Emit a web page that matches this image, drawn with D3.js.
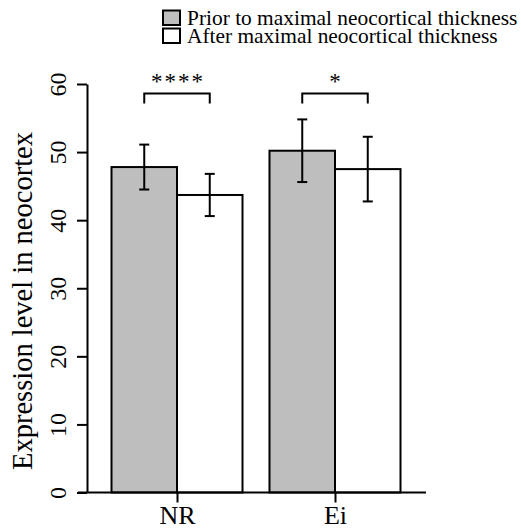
<!DOCTYPE html>
<html>
<head>
<meta charset="utf-8">
<script src="https://cdn.jsdelivr.net/npm/d3@7"></script>
<style>
  html, body { margin: 0; padding: 0; background: #fff; }
  svg { display: block; font-family: "Liberation Serif", "Times New Roman", serif; }
</style>
</head>
<body>
<svg id="chart" width="521" height="529"></svg>
<script>
// Gene groups on the x axis
const categories = ["NR", "Ei"];
// Developmental periods (one bar each per group)
const series = ["Prior to maximal neocortical thickness", "After maximal neocortical thickness"];
const seriesFill = ["#bebebe", "#ffffff"];
// Mean expression per group, per period
const priorMean = [47.8, 50.2];
const afterMean = [43.7, 47.5];
// Standard deviation (error bar half-length)
const priorSd = [3.3, 4.6];
const afterSd = [3.1, 4.75];
// Significance markers between the two periods
const significance = ["****", "*"];
// Y axis ticks
const yTicks = [0, 10, 20, 30, 40, 50, 60];
const yLabel = "Expression level in neocortex";

const svg = d3.select("#chart");

const y = d3.scaleLinear().domain([0, 60]).range([492.5, 84]);
const x = d3.scalePoint().domain(categories).range([98, 414]).padding(0.5);
const inner = d3.scaleBand().domain(series).range([-65.5, 65.5]);

const rows = [];
categories.forEach((c, i) => {
  rows.push({ cat: c, s: series[0], mean: priorMean[i], sd: priorSd[i], fill: seriesFill[0] });
  rows.push({ cat: c, s: series[1], mean: afterMean[i], sd: afterSd[i], fill: seriesFill[1] });
});

// Bars
svg.append("g").selectAll("rect").data(rows).join("rect")
  .attr("x", d => x(d.cat) + inner(d.s))
  .attr("y", d => y(d.mean))
  .attr("width", inner.bandwidth())
  .attr("height", d => y(0) - y(d.mean))
  .attr("fill", d => d.fill)
  .attr("stroke", "#000")
  .attr("stroke-width", 2);

// Error bars
const cap = 5;
const eb = svg.append("g").attr("stroke", "#000").attr("stroke-width", 2);
rows.forEach(d => {
  const cx = x(d.cat) + inner(d.s) + inner.bandwidth() / 2;
  eb.append("line").attr("x1", cx).attr("x2", cx)
    .attr("y1", y(d.mean + d.sd)).attr("y2", y(d.mean - d.sd));
  eb.append("line").attr("x1", cx - cap).attr("x2", cx + cap)
    .attr("y1", y(d.mean + d.sd)).attr("y2", y(d.mean + d.sd));
  eb.append("line").attr("x1", cx - cap).attr("x2", cx + cap)
    .attr("y1", y(d.mean - d.sd)).attr("y2", y(d.mean - d.sd));
});

// Significance brackets
const bracketY = y(58.6);
categories.forEach((c, i) => {
  const x1 = x(c) + inner(series[0]) + inner.bandwidth() / 2;
  const x2 = x(c) + inner(series[1]) + inner.bandwidth() / 2;
  svg.append("path")
    .attr("d", `M${x1},${bracketY + 10}V${bracketY}H${x2}V${bracketY + 10}`)
    .attr("fill", "none").attr("stroke", "#000").attr("stroke-width", 2);
  svg.append("text")
    .attr("x", (x1 + x2) / 2 + 1)
    .attr("y", bracketY - 4.5)
    .attr("text-anchor", "middle")
    .attr("font-size", 23)
    .attr("letter-spacing", 2)
    .text(significance[i]);
});

// Y axis
const yAxis = svg.append("g")
  .attr("transform", "translate(87,0)")
  .call(d3.axisLeft(y).tickValues(yTicks).tickSize(10).tickSizeOuter(0));
yAxis.select(".domain").attr("stroke-width", 2);
yAxis.selectAll(".tick line").attr("stroke-width", 2);
yAxis.selectAll(".tick text")
  .attr("transform", "rotate(-90)")
  .attr("x", 0).attr("y", -21).attr("dy", 0)
  .attr("text-anchor", "middle")
  .attr("font-family", "Liberation Serif, serif")
  .attr("font-size", 24)
  .attr("fill", "#000");

// X axis
const xAxis = svg.append("g")
  .attr("transform", `translate(0,${y(0)})`)
  .call(d3.axisBottom(x).tickSize(10).tickSizeOuter(0));
const [r0, r1] = x.range();
xAxis.select(".domain").attr("d", `M${r0 - 20},0H${r1 + 12}`).attr("stroke-width", 2);
xAxis.selectAll(".tick line").attr("stroke-width", 2);
xAxis.selectAll(".tick text")
  .attr("y", 31).attr("dy", 0)
  .attr("font-family", "Liberation Serif, serif")
  .attr("font-size", 26)
  .attr("fill", "#000");

// Y axis title
svg.append("text")
  .attr("transform", `translate(32,${301}) rotate(-90)`)
  .attr("text-anchor", "middle")
  .attr("font-size", 28.5)
  .text(yLabel);

// Legend
const legend = svg.append("g").attr("transform", "translate(163,10)");
series.forEach((s, i) => {
  const g = legend.append("g").attr("transform", `translate(0,${i * 18})`);
  g.append("rect").attr("x", 0).attr("y", 0.5).attr("width", 17).attr("height", 14.5)
    .attr("fill", seriesFill[i]).attr("stroke", "#000").attr("stroke-width", 2);
  g.append("text").attr("x", 24).attr("y", 15).attr("font-size", 21.4).text(s);
});
</script>
</body>
</html>
